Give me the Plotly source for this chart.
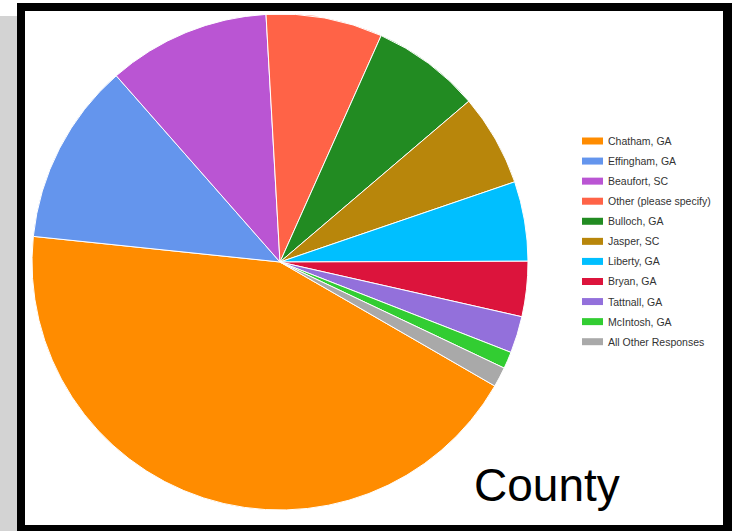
import plotly.graph_objects as go

W, H = 733, 531

counties = ["Chatham, GA", "Effingham, GA", "Beaufort, SC", "Other (please specify)",
            "Bulloch, GA", "Jasper, SC", "Liberty, GA", "Bryan, GA", "Tattnall, GA",
            "McIntosh, GA", "All Other Responses"]
shares = [43.4, 11.9, 10.6, 7.6, 7.1, 6.0, 5.2, 3.6, 2.4, 1.1, 1.3]
colors = ["#FF8C00", "#6495ED", "#BA55D3", "#FF6347", "#228B22", "#B8860B",
          "#00BFFF", "#DC143C", "#9370DB", "#32CD32", "#A9A9A9"]
title_text = "County"


def px(x):
    return x / W


def py(y):
    return 1 - y / H


cx, cy, r = 280, 262, 248

fig = go.Figure(go.Pie(
    labels=counties,
    values=shares,
    sort=False,
    direction="clockwise",
    rotation=120,
    marker=dict(colors=colors, line=dict(color="white", width=1)),
    textinfo="none",
    showlegend=False,
    domain=dict(x=[px(cx - r), px(cx + r)], y=[py(cy + r), py(cy - r)]),
))

shapes = [
    dict(type="rect", xref="paper", yref="paper", x0=px(0), x1=px(17), y0=py(531), y1=py(16),
         fillcolor="#D3D3D3", line=dict(width=0), layer="below"),
    dict(type="rect", xref="paper", yref="paper", x0=px(17), x1=px(732), y0=py(531), y1=py(3),
         fillcolor="black", line=dict(width=0), layer="below"),
    dict(type="rect", xref="paper", yref="paper", x0=px(25), x1=px(723), y0=py(525), y1=py(11),
         fillcolor="white", line=dict(width=0), layer="below"),
]
annotations = []
y0, dy = 141, 20.07
for i, (name, col) in enumerate(zip(counties, colors)):
    yc = y0 + i * dy
    shapes.append(dict(type="rect", xref="paper", yref="paper", x0=px(582), x1=px(603),
                       y0=py(yc + 3.5), y1=py(yc - 3.5), fillcolor=col, line=dict(width=0)))
    annotations.append(dict(xref="paper", yref="paper", x=px(606), y=py(yc), text=name,
                            showarrow=False, xanchor="left", yanchor="middle",
                            font=dict(family="Liberation Sans, Arial", size=10.5, color="#333333")))

annotations.append(dict(xref="paper", yref="paper", x=px(472), y=py(485), text=title_text,
                        showarrow=False, xanchor="left", yanchor="middle",
                        font=dict(family="Liberation Sans, Arial", size=46, color="black")))

fig.update_layout(
    width=W, height=H,
    margin=dict(l=0, r=0, t=0, b=0),
    paper_bgcolor="white",
    plot_bgcolor="white",
    shapes=shapes,
    annotations=annotations,
)

fig.write_html("out.html", config={"displayModeBar": False},
               post_script="document.body.style.margin='0';document.body.style.overflow='hidden';")
